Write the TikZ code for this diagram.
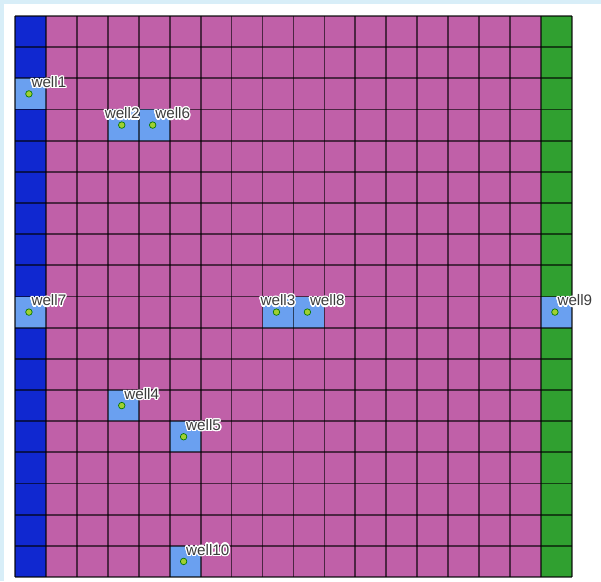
\documentclass[tikz,border=0pt]{standalone}
\usepackage{fontspec}
\setsansfont{Liberation Sans}
\usepackage{contour}
\contourlength{0.6pt}
\usetikzlibrary{positioning}
\definecolor{framebg}{HTML}{D8EEF8}
\definecolor{westzone}{HTML}{1028D0}
\definecolor{midzone}{HTML}{C060A8}
\definecolor{eastzone}{HTML}{30A030}
\definecolor{wellblue}{HTML}{6AA0F0}
\definecolor{wellgreen}{HTML}{A0D030}
\definecolor{labgray}{HTML}{3C3C3C}
\tikzset{
  wellcell/.style={fill=wellblue},
  gridln/.style={draw=black, draw opacity=0.6, line width=0.8pt},
  wellpt/.style={circle, fill=wellgreen, draw=green!45!black, line width=0.3pt,
                 minimum size=3pt, inner sep=0pt},
  welllab/.style={anchor=south west, inner sep=0.5pt, xshift=0.5pt, yshift=1.5pt,
                  font=\sffamily\fontsize{7}{8}\selectfont, text=labgray},
}
\begin{document}
\begin{tikzpicture}[x=0.5cm, y=-0.5037cm]
  \useasboundingbox (-0.485,-0.513) rectangle (18.94,18.13);
  \fill[framebg] (-0.485,-0.513) rectangle (18.94,18.13);
  \fill[white] (-0.356,-0.385) rectangle (18.94,18.13);
  % zones
  \fill[westzone] (0,0) rectangle (1,18);
  \fill[midzone] (1,0) rectangle (17,18);
  \fill[eastzone] (17,0) rectangle (18,18);
  % cells holding a well
  \foreach \c/\r in {0/2, 3/3, 4/3, 0/9, 8/9, 9/9, 17/9, 3/12, 5/13, 5/17}
    \fill[wellcell] (\c,\r) rectangle ++(1,1);
  % grid
  \foreach \i in {0,...,18} {
    \draw[gridln] (\i,0) -- (\i,18);
    \draw[gridln] (0,\i) -- (18,\i);
  }
  % wells and their labels
  \foreach \n/\c/\r/\dx in {1/0/2/0, 2/3/3/-9, 6/4/3/0, 7/0/9/0, 3/8/9/-8.5,
                            8/9/9/0, 9/17/9/0, 4/3/12/0, 5/5/13/0, 10/5/17/0} {
    \node[wellpt] (w\n) at (\c+0.45,\r+0.5) {};
    \node[welllab, xshift=\dx pt] (w\n lab) at (w\n.center) {\contour{white}{well\n}};
  }
\end{tikzpicture}
\end{document}
